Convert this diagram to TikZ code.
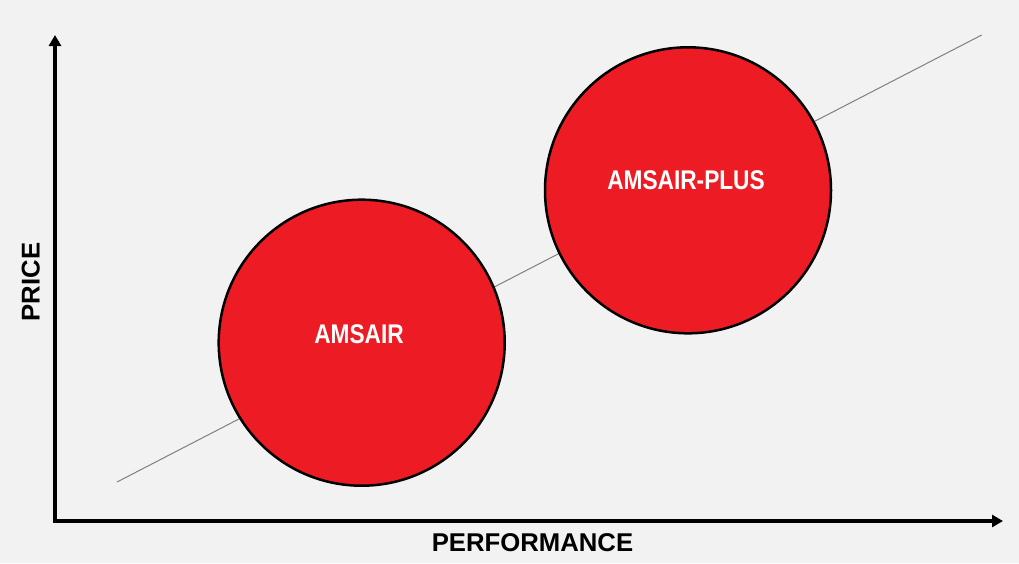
\documentclass[tikz,border=0pt]{standalone}
\usepackage{fontspec}
\setmainfont{Liberation Sans}
\newfontfamily\narrowbf[FakeStretch=0.84]{Liberation Sans Bold}
\usetikzlibrary{arrows.meta}
\definecolor{bgc}{HTML}{F2F2F2}
\definecolor{redc}{HTML}{ED1C24}
\definecolor{trend}{HTML}{808080}
\tikzset{
  bubble/.style={circle, draw=black, line width=2.5pt, fill=redc, minimum size=286pt, inner sep=0pt},
  bubblelabel/.style={anchor=base, text=white, inner sep=0pt, font=\narrowbf\fontsize{27}{32}\selectfont},
  axislabel/.style={anchor=base, text=black, inner sep=0pt, font=\bfseries\fontsize{25.7}{30}\selectfont},
  axisline/.style={line width=4pt, line join=miter, {Triangle[length=11pt,width=12pt]}-{Triangle[length=11pt,width=12pt]}},
}
\begin{document}
\begin{tikzpicture}[x=1pt,y=-1pt]
\fill[bgc] (0,0) rectangle (1019,563);
\useasboundingbox (0,0) rectangle (1019,563);
% trend line
\coordinate (d1) at (117,482);
\coordinate (d2) at (981.7,35);
\draw[trend, line width=1pt] (d1) -- (d2);
% axes
\coordinate (ytop) at (55,35);
\coordinate (o) at (55,521);
\coordinate (xend) at (1003,521);
\draw[axisline] (ytop) -- (o) -- (xend);
% bubbles
\node[bubble] (amsair) at (361.7,342.7) {};
\node[bubble] (plus) at (688,190.3) {};
\node[bubblelabel] (amsairlbl) at (359,343) {AMSAIR};
\node[bubblelabel] (pluslbl) at (686,189) {AMSAIR-PLUS};
% axis labels
\node[axislabel] (perf) at (532.5,551) {PERFORMANCE};
\node[axislabel, rotate=90] (price) at (39.5,282) {PRICE};
\end{tikzpicture}
\end{document}
